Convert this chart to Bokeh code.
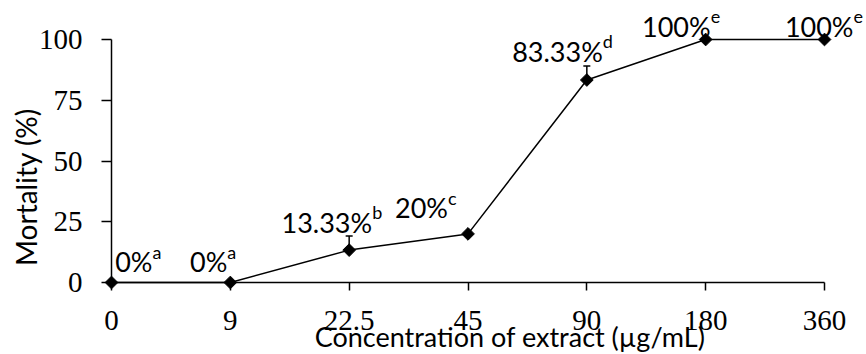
import math
from bokeh.plotting import figure
from bokeh.models import Range1d, FixedTicker, ColumnDataSource, Whisker, TeeHead
from bokeh.core.properties import value
from bokeh.embed import file_html
from bokeh.resources import INLINE

# ---- data ----
concentrations = ["0", "9", "22.5", "45", "90", "180", "360"]
mortality = [0, 0, 13.33, 20, 83.33, 100, 100]
error_up = [0, 0, 5.77, 0, 5.77, 0, 0]
letters = ["a", "a", "b", "c", "d", "e", "e"]
y_ticks = [0, 25, 50, 75, 100]
x_title = "Concentration of extract (µg/mL)"
y_title = "Mortality (%)"

# ---- label placement (pixel offsets, style only) ----
label_dx = [41, -3, 23, -20, 16, 5, 29]
label_dy = [-21, -21, -28, -26, -29, -13, -13]
sup_raise = 10

idx = list(range(len(concentrations)))
main_text = [f"{v:g}%" for v in mortality]

p = figure(width=866, height=354, output_backend="svg", toolbar_location=None,
           x_range=Range1d(0, len(idx) - 1), y_range=Range1d(0, 100),
           min_border_left=111, min_border_right=42, min_border_top=39,
           min_border_bottom=72)
p.outline_line_color = None
p.xgrid.visible = False
p.ygrid.visible = False
p.background_fill_color = "white"

for ax in (p.xaxis[0], p.yaxis[0]):
    ax.axis_line_color = "black"
    ax.axis_line_width = 1.5
    ax.major_tick_line_color = "black"
    ax.major_tick_line_width = 1.5
    ax.major_tick_in = 0
    ax.minor_tick_in = 0
    ax.minor_tick_out = 0
    ax.major_label_text_font = "Liberation Serif"
    ax.major_label_text_font_size = "29px"
    ax.major_label_text_color = "black"

p.xaxis.ticker = FixedTicker(ticks=idx)
p.xaxis.major_label_overrides = {i: c for i, c in zip(idx, concentrations)}
p.xaxis.major_tick_out = 8
p.xaxis.major_label_standoff = 20

p.yaxis.ticker = FixedTicker(ticks=y_ticks)
p.yaxis.major_tick_out = 10
p.yaxis.major_label_standoff = 19

src = ColumnDataSource(dict(
    x=idx, y=mortality, main=main_text, sup=letters,
    dx=label_dx, dy=label_dy, dys=[d - sup_raise for d in label_dy],
))

r_line = p.line("x", "y", source=src, line_color="black", line_width=1.5)

err_idx = [i for i, e in zip(idx, error_up) if e > 0]
err_src = ColumnDataSource(dict(
    base=err_idx,
    lower=[mortality[i] for i in err_idx],
    upper=[mortality[i] + error_up[i] for i in err_idx],
))
p.add_layout(Whisker(source=err_src, base="base", lower="lower", upper="upper",
                     dimension="height", line_color="black", line_width=1.5,
                     upper_head=TeeHead(size=7, line_color="black", line_width=1.5),
                     lower_head=None))

r_pts = p.scatter("x", "y", source=src, marker="square", angle=math.pi / 4,
                  size=9, fill_color="black", line_color="black")

r_main = p.text("x", "y", text="main", source=src, x_offset="dx", y_offset="dy",
                text_align="right", text_baseline="alphabetic",
                text_font=value("Lato"), text_font_size="27px", text_color="black")
r_sup = p.text("x", "y", text="sup", source=src, x_offset="dx", y_offset="dys",
               text_align="left", text_baseline="alphabetic",
               text_font=value("Lato"), text_font_size="18px", text_color="black")

# axis titles (drawn as text glyphs so they may sit outside the frame)
r_xt = p.text(x=[(len(idx) - 1) / 2], y=[0], text=[x_title], x_offset=42, y_offset=54,
              text_align="center", text_baseline="alphabetic",
              text_font=value("Lato"), text_font_size="27px", text_color="black")
r_yt = p.text(x=[0], y=[50], text=[y_title], angle=math.pi / 2,
              x_offset=-86, y_offset=26,
              text_align="center", text_baseline="middle",
              text_font=value("Lato"), text_font_size="28px", text_color="black")

for r in (r_line, r_pts, r_main, r_sup, r_xt, r_yt):
    r.level = "overlay"

open("out.html", "w").write(file_html(p, INLINE))
